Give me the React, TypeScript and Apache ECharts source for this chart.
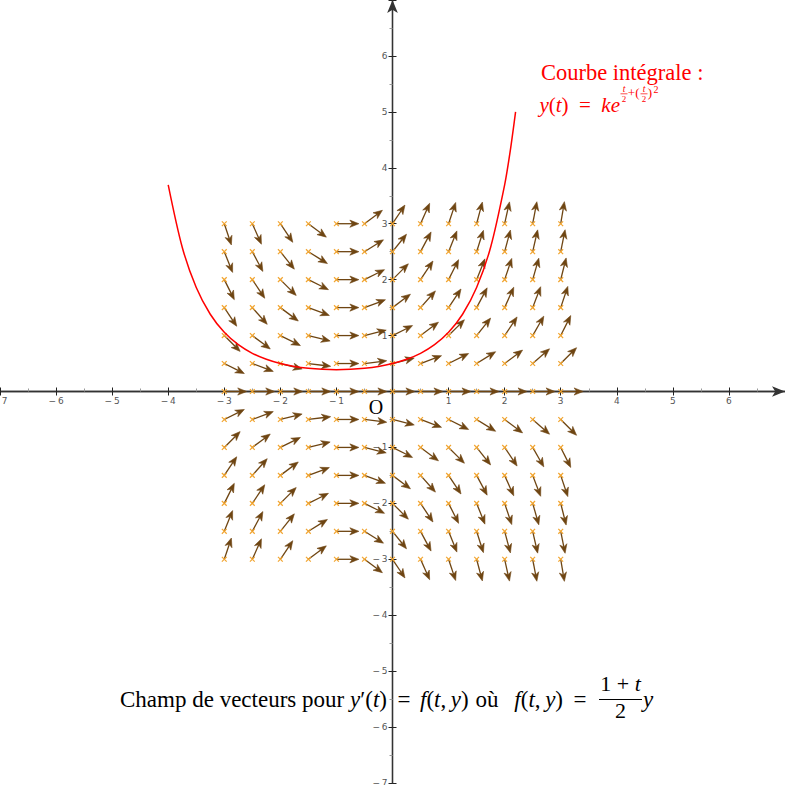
import React, { useEffect, useRef } from "react";
import * as echarts from "echarts";

// Grid of the direction field
const tValues = [-3, -2.5, -2, -1.5, -1, -0.5, 0, 0.5, 1, 1.5, 2, 2.5, 3];
const yValues = [3, 2.5, 2, 1.5, 1, 0.5, 0, -0.5, -1, -1.5, -2, -2.5, -3];
// Slope of each arrow (row = y value, column = t value)
const slopeRows = [
  [-3, -2.25, -1.5, -0.75, 0, 0.75, 1.5, 2.25, 3, 3.75, 4.5, 5.25, 6],
  [-2.5, -1.875, -1.25, -0.625, 0, 0.625, 1.25, 1.875, 2.5, 3.125, 3.75, 4.375, 5],
  [-2, -1.5, -1, -0.5, 0, 0.5, 1, 1.5, 2, 2.5, 3, 3.5, 4],
  [-1.5, -1.125, -0.75, -0.375, 0, 0.375, 0.75, 1.125, 1.5, 1.875, 2.25, 2.625, 3],
  [-1, -0.75, -0.5, -0.25, 0, 0.25, 0.5, 0.75, 1, 1.25, 1.5, 1.75, 2],
  [-0.5, -0.375, -0.25, -0.125, 0, 0.125, 0.25, 0.375, 0.5, 0.625, 0.75, 0.875, 1],
  [0, 0, 0, 0, 0, 0, 0, 0, 0, 0, 0, 0, 0],
  [0.5, 0.375, 0.25, 0.125, 0, -0.125, -0.25, -0.375, -0.5, -0.625, -0.75, -0.875, -1],
  [1, 0.75, 0.5, 0.25, 0, -0.25, -0.5, -0.75, -1, -1.25, -1.5, -1.75, -2],
  [1.5, 1.125, 0.75, 0.375, 0, -0.375, -0.75, -1.125, -1.5, -1.875, -2.25, -2.625, -3],
  [2, 1.5, 1, 0.5, 0, -0.5, -1, -1.5, -2, -2.5, -3, -3.5, -4],
  [2.5, 1.875, 1.25, 0.625, 0, -0.625, -1.25, -1.875, -2.5, -3.125, -3.75, -4.375, -5],
  [3, 2.25, 1.5, 0.75, 0, -0.75, -1.5, -2.25, -3, -3.75, -4.5, -5.25, -6],
];

// Integral curve samples (t, y)
const curveT = [-4, -3.75, -3.5, -3.25, -3, -2.75, -2.5, -2.25, -2, -1.75, -1.5, -1.25, -1, -0.75, -0.5, -0.25, 0, 0.25, 0.5, 0.75, 1, 1.25, 1.5, 1.75, 2, 2.1, 2.195];
const curveY = [3.695, 2.579, 1.858, 1.381, 1.058, 0.837, 0.683, 0.576, 0.5, 0.448, 0.415, 0.396, 0.389, 0.396, 0.415, 0.448, 0.5, 0.576, 0.683, 0.837, 1.058, 1.381, 1.858, 2.579, 3.695, 4.303, 5.0];

// Axis tick labels that are not drawn
const hiddenTicks = [0, 7];

const serif = '"Liberation Serif", "DejaVu Serif", serif';
const sans = '"DejaVu Sans", sans-serif';
const ARROW = "#6e4512";
const MARK = "#f2a530";
const RED = "#ff0000";
const EN = "\u2002";

const tickFmt = (v: number) => {
  if (hiddenTicks.indexOf(v) >= 0) return "";
  return v < 0 ? "\u2212\u2009" + Math.abs(v) : String(v);
};

const W = 785;
const H = 785;
const GB = 2; // grid bottom gap

export default function App() {
  const ref = useRef<HTMLDivElement>(null);
  useEffect(() => {
    if (!ref.current) return;
    const chart = echarts.init(ref.current, null, { renderer: "svg" });

    const fieldData: number[][] = [];
    yValues.forEach((y, i) => {
      tValues.forEach((t, j) => {
        fieldData.push([t, y, slopeRows[i][j]]);
      });
    });

    const gh = H - GB;
    const xOff = -gh / 2; // move x axes to y = 0
    const yOff = -W / 2; // move y axes to x = 0

    const axisLineStyle = { color: "#333", width: 1.3 };
    const labelStyle = { fontSize: 9, color: "#555", fontFamily: sans, formatter: tickFmt };
    const italic = (size: number, fill: string) => ({ i: { fontStyle: "italic", fontSize: size, fontFamily: serif, fill } });
    const BY = 699; // bottom caption line centre
    const bt = (x: number, text: string, align: string) => ({
      type: "text", x, y: BY,
      style: { text, font: `23px ${serif}`, fill: "#000", align, verticalAlign: "middle", rich: italic(23, "#000") },
    });

    chart.setOption({
      animation: false,
      grid: { left: 0, right: 0, top: 0, bottom: GB, containLabel: false, outerBoundsMode: "none" },
      xAxis: [
        {
          type: "value", min: -7, max: 7, interval: 1, position: "bottom", offset: xOff,
          axisLine: { onZero: false, lineStyle: axisLineStyle, symbol: ["none", "arrow"], symbolSize: [8, 13] },
          axisTick: { show: true, length: 4, lineStyle: { color: "#222" } },
          minorTick: { show: false },
          axisLabel: { ...labelStyle, margin: 5, showMinLabel: true, showMaxLabel: true, hideOverlap: false },
          splitLine: { show: false },
        },
        {
          type: "value", min: -7, max: 7, interval: 1, position: "top", offset: xOff,
          axisLine: { onZero: false, lineStyle: axisLineStyle },
          axisTick: { show: true, length: 4, lineStyle: { color: "#222" } },
          minorTick: { show: true, splitNumber: 2, length: 3, lineStyle: { color: "#999" } },
          axisLabel: { show: false },
          splitLine: { show: false },
        },
      ],
      yAxis: [
        {
          type: "value", min: -7, max: 7, interval: 1, position: "left", offset: yOff,
          axisLine: { onZero: false, lineStyle: axisLineStyle, symbol: ["none", "arrow"], symbolSize: [8, 13] },
          axisTick: { show: true, length: 4, lineStyle: { color: "#222" } },
          minorTick: { show: true, splitNumber: 2, length: 3, lineStyle: { color: "#999" } },
          axisLabel: { ...labelStyle, margin: 5, padding: [0, 0, 6, 0], showMinLabel: true, showMaxLabel: true, hideOverlap: false },
          splitLine: { show: false },
        },
        {
          type: "value", min: -7, max: 7, interval: 1, position: "right", offset: yOff,
          axisLine: { onZero: false, lineStyle: axisLineStyle },
          axisTick: { show: true, length: 4, lineStyle: { color: "#222" } },
          axisLabel: { show: false },
          splitLine: { show: false },
        },
      ],
      series: [
        {
          type: "custom",
          xAxisIndex: 0,
          yAxisIndex: 0,
          z: 3,
          data: fieldData,
          renderItem: (params: any, api: any) => {
            const t = api.value(0);
            const y = api.value(1);
            const s = api.value(2);
            const n = Math.sqrt(1 + s * s);
            const L = 0.4;
            const p0 = api.coord([t, y]);
            const p1 = api.coord([t + L / n, y + (L * s) / n]);
            const dx = p1[0] - p0[0];
            const dy = p1[1] - p0[1];
            const len = Math.sqrt(dx * dx + dy * dy);
            const ux = dx / len, uy = dy / len;
            const px = -uy, py = ux;
            const hl = 9, hw = 3.6, notch = 6.5;
            const bx = p1[0] - ux * hl, by = p1[1] - uy * hl;
            const nx = p1[0] - ux * notch, ny = p1[1] - uy * notch;
            const m = 2.4;
            return {
              type: "group",
              children: [
                {
                  type: "line",
                  shape: { x1: p0[0], y1: p0[1], x2: nx, y2: ny },
                  style: { stroke: ARROW, lineWidth: 1.3 },
                },
                {
                  type: "polygon",
                  shape: {
                    points: [
                      [p1[0], p1[1]],
                      [bx + px * hw, by + py * hw],
                      [nx, ny],
                      [bx - px * hw, by - py * hw],
                    ],
                  },
                  style: { fill: ARROW, stroke: ARROW, lineWidth: 0.6 },
                },
                {
                  type: "line",
                  shape: { x1: p0[0] - m, y1: p0[1] - m, x2: p0[0] + m, y2: p0[1] + m },
                  style: { stroke: MARK, lineWidth: 1.2 },
                },
                {
                  type: "line",
                  shape: { x1: p0[0] - m, y1: p0[1] + m, x2: p0[0] + m, y2: p0[1] - m },
                  style: { stroke: MARK, lineWidth: 1.2 },
                },
              ],
            };
          },
        },
        {
          type: "line",
          xAxisIndex: 0,
          yAxisIndex: 0,
          z: 4,
          data: curveT.map((t, i) => [t, curveY[i]]),
          smooth: 0.3,
          showSymbol: false,
          lineStyle: { color: RED, width: 1.5 },
        },
      ],
      graphic: [
        {
          type: "text", x: 376, y: 407,
          style: { text: "O", font: `20px ${serif}`, fill: "#000", align: "center", verticalAlign: "middle" },
        },
        {
          type: "text", x: 541, y: 72,
          style: { text: "Courbe intégrale :", font: `22.5px ${serif}`, fill: RED, align: "left", verticalAlign: "middle" },
        },
        {
          type: "text", x: 620, y: 105,
          style: {
            text: `{i|y}({i|t})${EN}=${EN}{i|ke}`,
            font: `21px ${serif}`, fill: RED, align: "right", verticalAlign: "middle",
            rich: italic(21, RED),
          },
        },
        { type: "text", x: 624, y: 88.5, style: { text: "t", font: `italic 9.5px ${serif}`, fill: RED, align: "center", verticalAlign: "middle" } },
        { type: "line", shape: { x1: 620.5, y1: 93.8, x2: 627.5, y2: 93.8 }, style: { stroke: RED, lineWidth: 0.7 } },
        { type: "text", x: 624, y: 99.2, style: { text: "2", font: `9px ${serif}`, fill: RED, align: "center", verticalAlign: "middle" } },
        { type: "text", x: 627.8, y: 92.5, style: { text: "+(", font: `13px ${serif}`, fill: RED, align: "left", verticalAlign: "middle" } },
        { type: "text", x: 644, y: 88.5, style: { text: "t", font: `italic 9.5px ${serif}`, fill: RED, align: "center", verticalAlign: "middle" } },
        { type: "line", shape: { x1: 640.5, y1: 93.8, x2: 647.5, y2: 93.8 }, style: { stroke: RED, lineWidth: 0.7 } },
        { type: "text", x: 644, y: 99.2, style: { text: "2", font: `9px ${serif}`, fill: RED, align: "center", verticalAlign: "middle" } },
        { type: "text", x: 647.8, y: 92.5, style: { text: ")", font: `13px ${serif}`, fill: RED, align: "left", verticalAlign: "middle" } },
        { type: "text", x: 653.5, y: 89.5, style: { text: "2", font: `10px ${serif}`, fill: RED, align: "left", verticalAlign: "middle" } },
        {
          type: "text", x: 120, y: BY,
          style: { text: "Champ de vecteurs pour", font: `23px ${serif}`, fill: "#000", align: "left", verticalAlign: "middle" },
        },
        bt(350, "{i|y}\u2032({i|t})", "left"),
        bt(404, "=", "center"),
        bt(420, "{i|f}({i|t},\u2009{i|y})", "left"),
        bt(487, "où", "center"),
        bt(563, "{i|f}({i|t},\u2009{i|y})", "right"),
        bt(580, "=", "center"),
        { type: "text", x: 620.5, y: 683, style: { text: "1 + {i|t}", font: `22px ${serif}`, fill: "#000", align: "center", verticalAlign: "middle", rich: italic(22, "#000") } },
        { type: "line", shape: { x1: 599, y1: 699.5, x2: 642, y2: 699.5 }, style: { stroke: "#000", lineWidth: 1 } },
        { type: "text", x: 620.5, y: 710, style: { text: "2", font: `22px ${serif}`, fill: "#000", align: "center", verticalAlign: "middle" } },
        { type: "text", x: 643, y: BY, style: { text: "y", font: `italic 23px ${serif}`, fill: "#000", align: "left", verticalAlign: "middle" } },
      ],
    });
    return () => chart.dispose();
  }, []);

  return (
    <div
      ref={ref}
      style={{ position: "fixed", left: 0, top: 0, width: W, height: H, background: "#fff" }}
    />
  );
}
